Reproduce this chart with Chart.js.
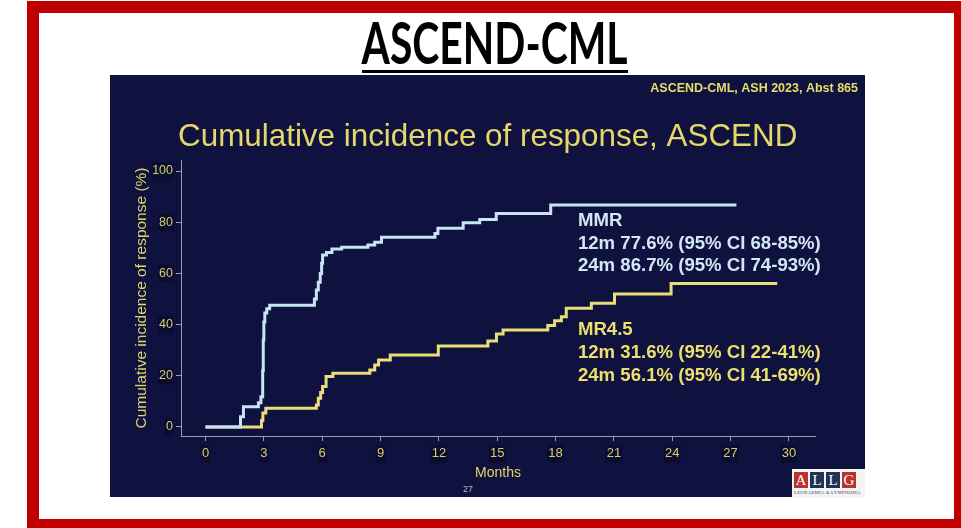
<!DOCTYPE html>
<html>
<head>
<meta charset="utf-8">
<title>ASCEND-CML</title>
<script src="https://cdn.jsdelivr.net/npm/chart.js@4.4.0/dist/chart.umd.min.js"></script>
<style>
  html, body { margin: 0; padding: 0; background: #ffffff; }
  body { width: 961px; height: 528px; position: relative; overflow: hidden;
         font-family: "Liberation Sans", Arial, sans-serif; }
  #frame { position: absolute; left: 27px; top: 1px; width: 934px; height: 527px;
           box-sizing: border-box; border-style: solid; border-color: #c00000;
           border-width: 12px 7px 9px 12px; }
  #heading { position: absolute; left: 0; top: 14px; width: 990px; text-align: center;
             line-height: 56px; height: 56px; }
  #heading span { display: inline-block; font-family: Lato, "Liberation Sans Narrow", "DejaVu Sans Condensed", sans-serif;
                  font-weight: bold; font-size: 57px; color: #000; transform-origin: 50% 50%; white-space: nowrap; }
  #rule { position: absolute; left: 362px; top: 70px; width: 266px; height: 3px; background: #000; }
  #slide { position: absolute; left: 110px; top: 75px; width: 755px; height: 422px; background: #0f123e; }
  #slide canvas { position: absolute; left: 0; top: 0; }
  #logo { position: absolute; left: 792px; top: 469px; width: 73px; height: 29px; background: #f4f4f4; }
  #logo .b { position: absolute; top: 3px; width: 14px; height: 16px; color: #fff;
             font-family: "Liberation Serif", "DejaVu Serif", serif; font-size: 15px; line-height: 16px;
             text-align: center; }
  #logo .r { background: #b8342e; }
  #logo .n { background: #233259; }
  #logo .t { position: absolute; left: 2px; top: 21px; width: 68px; font-family: "Liberation Serif", serif;
             font-size: 5px; line-height: 6px; color: #4a4f66; white-space: nowrap; letter-spacing: 0.1px; }
</style>
</head>
<body>
<div id="frame"></div>
<div id="heading"><span id="headText">ASCEND-CML</span></div>
<div id="rule"></div>
<div id="slide"><canvas id="km" width="755" height="422"></canvas></div>
<div id="logo">
  <div class="b r" style="left:2px">A</div>
  <div class="b n" style="left:18px">L</div>
  <div class="b n" style="left:34px">L</div>
  <div class="b r" style="left:50px">G</div>
  <div class="t">LEUKAEMIA &amp; LYMPHOMA</div>
</div>
<script>
// Axis ticks
const MONTH_TICKS = [0, 3, 6, 9, 12, 15, 18, 21, 24, 27, 30];
const PCT_TICKS = [0, 20, 40, 60, 80, 100];

// Cumulative incidence of MMR (% responders by month)
const mmrMonths = [0, 1.80, 1.95, 2.72, 2.85, 2.94, 2.97, 3.00, 3.05, 3.15, 3.30, 5.60, 5.70, 5.80, 5.90, 5.97,
                   6.02, 6.22, 6.50, 7.00, 8.35, 8.70, 9.05, 11.80, 11.95, 13.25, 14.10, 14.95, 17.75, 27.30];
const mmrPct = [0, 4.0, 7.9, 9.5, 11.8, 22.0, 34.0, 41.0, 44.5, 46.2, 47.6, 50.0, 53.5, 56.5, 60.0, 64.0,
                67.2, 68.2, 69.5, 70.2, 71.1, 72.2, 74.1, 75.6, 77.6, 79.8, 81.1, 83.4, 86.7, 86.7];

// Cumulative incidence of MR4.5
const mr45Months = [0, 2.88, 2.95, 3.10, 5.70, 5.80, 5.92, 6.02, 6.20, 6.55, 8.45, 8.70, 8.90, 9.50, 11.97,
                    14.52, 14.96, 15.30, 17.60, 17.95, 18.30, 18.55, 19.84, 21.03, 23.94, 29.40];
const mr45Pct = [0, 2.5, 5.5, 7.3, 8.6, 11.2, 13.5, 15.8, 19.7, 21.0, 22.3, 24.2, 26.2, 28.1, 31.6,
                 33.6, 36.3, 37.9, 39.6, 41.5, 43.1, 46.4, 48.3, 52.0, 56.1, 56.1];

// Summary lines shown beside each curve
const mmrNotes = ['MMR', '12m 77.6% (95% CI 68-85%)', '24m 86.7% (95% CI 74-93%)'];
const mr45Notes = ['MR4.5', '12m 31.6% (95% CI 22-41%)', '24m 56.1% (95% CI 41-69%)'];

const FONT = '"Liberation Sans", Arial, sans-serif';
const BLUE = '#c8e4f4';
const BLUE_TEXT = '#d3e6f4';
const YELLOW = '#e9de7a';
const YELLOW_TEXT = '#ecdf6c';
const TICK = '#d9cc6c';
const AXIS = '#9c9cac';

const toPoints = (xs, ys) => xs.map((x, i) => ({ x: x, y: ys[i] }));

// Fit the heading to its width
function fitHeading() {
  const s = document.getElementById('headText');
  s.style.transform = 'none';
  const w = s.getBoundingClientRect().width;
  if (w > 0) s.style.transform = 'scaleX(' + (266 / w) + ')';
}
fitHeading();
if (document.fonts && document.fonts.ready) document.fonts.ready.then(fitHeading);

const slideText = {
  id: 'slideText',
  afterDraw(chart) {
    const ctx = chart.ctx;
    ctx.save();
    ctx.fillStyle = '#e8dc6c';
    ctx.font = 'bold 12.5px ' + FONT;
    ctx.textAlign = 'right';
    ctx.textBaseline = 'middle';
    ctx.fillText('ASCEND-CML, ASH 2023, Abst 865', 748, 14);

    ctx.fillStyle = '#e5d769';
    ctx.font = '31.4px ' + FONT;
    ctx.textAlign = 'left';
    ctx.textBaseline = 'alphabetic';
    ctx.fillText('Cumulative incidence of response, ASCEND', 68, 71);

    ctx.fillStyle = '#b4b8cc';
    ctx.font = '9px ' + FONT;
    ctx.textAlign = 'center';
    ctx.textBaseline = 'middle';
    ctx.fillText('27', 358, 415);
    ctx.restore();
  }
};

const curveNotes = {
  id: 'curveNotes',
  afterDatasetsDraw(chart) {
    const ctx = chart.ctx;
    const xs = chart.scales.x, ys = chart.scales.y;
    const left = xs.getPixelForValue(19.15);
    const blocks = [
      { lines: mmrNotes, color: BLUE_TEXT, at: 80.6 },
      { lines: mr45Notes, color: YELLOW_TEXT, at: 37.9 }
    ];
    ctx.save();
    ctx.font = 'bold 18.6px ' + FONT;
    ctx.textAlign = 'left';
    ctx.textBaseline = 'middle';
    blocks.forEach(b => {
      const top = ys.getPixelForValue(b.at);
      ctx.fillStyle = b.color;
      b.lines.forEach((t, i) => ctx.fillText(t, left, top + i * 22.8));
    });
    ctx.restore();
  }
};

new Chart(document.getElementById('km'), {
  type: 'line',
  data: {
    datasets: [
      { label: 'MMR', data: toPoints(mmrMonths, mmrPct), borderColor: BLUE, borderWidth: 3,
        stepped: 'before', pointRadius: 0, fill: false },
      { label: 'MR4.5', data: toPoints(mr45Months, mr45Pct), borderColor: YELLOW, borderWidth: 3,
        stepped: 'before', pointRadius: 0, fill: false }
    ]
  },
  options: {
    responsive: false,
    animation: false,
    devicePixelRatio: 1,
    layout: { padding: { left: 0, top: 85, right: 50, bottom: 0 } },
    plugins: { legend: { display: false }, tooltip: { enabled: false }, title: { display: false } },
    scales: {
      x: {
        type: 'linear', min: -1.26, max: 31.34,
        afterBuildTicks: s => { s.ticks = MONTH_TICKS.map(v => ({ value: v })); },
        afterFit: s => { s.height = 61; },
        border: { display: true, color: AXIS, width: 1 },
        grid: { display: true, drawOnChartArea: false, drawTicks: true, tickLength: 5, color: AXIS },
        ticks: { color: TICK, font: { family: FONT, size: 13 }, padding: 5, autoSkip: false,
                 maxRotation: 0, callback: v => String(v),
                 showLabelBackdrop: true, backdropColor: '#0a0c30', backdropPadding: 1 },
        title: { display: true, text: 'Months', color: '#e2d46a', font: { family: FONT, size: 14 },
                 padding: { top: 0, bottom: 15.6 } }
      },
      y: {
        type: 'linear', min: -3.52, max: 104.3,
        afterBuildTicks: s => { s.ticks = PCT_TICKS.map(v => ({ value: v })); },
        afterFit: s => { s.width = 71; },
        border: { display: true, color: AXIS, width: 1 },
        grid: { display: true, drawOnChartArea: false, drawTicks: true, tickLength: 5, color: AXIS },
        ticks: { color: TICK, font: { family: FONT, size: 12.5 }, padding: 3, autoSkip: false,
                 callback: v => String(v),
                 showLabelBackdrop: true, backdropColor: '#0a0c30', backdropPadding: 1 },
        title: { display: true, text: 'Cumulative incidence of response (%)', color: '#e2d46a',
                 font: { family: FONT, size: 15.5 }, padding: { top: 22.4, bottom: 0 } }
      }
    }
  },
  plugins: [slideText, curveNotes]
});
</script>
</body>
</html>
